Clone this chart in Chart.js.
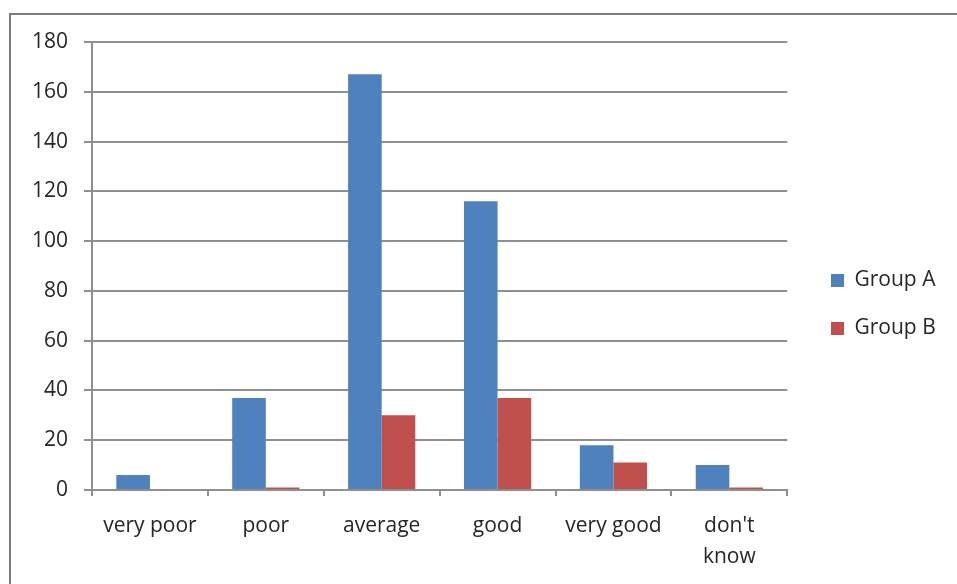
<!DOCTYPE html>
<html>
<head>
<meta charset="utf-8">
<script src="https://cdn.jsdelivr.net/npm/chart.js@4"></script>
<style>
html,body{margin:0;padding:0;background:#fff;}
#wrap{width:957px;height:584px;position:relative;}
</style>
</head>
<body>
<div id="wrap"><canvas id="c" width="957" height="584"></canvas></div>
<script>
const categories = ['very poor', 'poor', 'average', 'good', 'very good', ["don't", 'know']];
const groupA = [6, 37, 167, 116, 18, 10];
const groupB = [0, 1, 30, 37, 11, 1];
const seriesNames = ['Group A', 'Group B'];
const yTicks = { min: 0, max: 180, step: 20 };

const GRID = '#8f8f8f';
const TEXT = '#262626';

const framePlugin = {
  id: 'frame',
  beforeDraw(chart) {
    const ctx = chart.ctx;
    ctx.save();
    ctx.fillStyle = '#fff';
    ctx.fillRect(0, 0, chart.width, chart.height);
    ctx.strokeStyle = '#7a7a7a';
    ctx.lineWidth = 2;
    ctx.beginPath();
    ctx.moveTo(chart.width + 2, 14);
    ctx.lineTo(10, 14);
    ctx.lineTo(10, chart.height + 2);
    ctx.stroke();
    ctx.restore();
  }
};

const legendShift = {
  id: 'legendShift',
  afterLayout(chart) {
    const lg = chart.legend;
    if (!lg) return;
    const pad = lg.options.labels.padding;
    const w = lg.right - lg.left, h = lg.bottom - lg.top;
    lg.left = 831 - pad; lg.right = lg.left + w;
    lg.top = 243; lg.bottom = lg.top + h;
  }
};

Chart.defaults.font.family = '"Open Sans", Lato, sans-serif';
Chart.defaults.font.size = 21;
Chart.defaults.color = TEXT;

new Chart(document.getElementById('c'), {
  type: 'bar',
  data: {
    labels: categories,
    datasets: [
      { label: seriesNames[0], data: groupA, backgroundColor: '#4f81bd', borderWidth: 0 },
      { label: seriesNames[1], data: groupB, backgroundColor: '#c0504d', borderWidth: 0 }
    ]
  },
  options: {
    responsive: false,
    animation: false,
    devicePixelRatio: 1,
    layout: { padding: { top: 42, left: 0, bottom: 0, right: 28 } },
    datasets: { bar: { barPercentage: 1.0, categoryPercentage: 0.58 } },
    plugins: {
      tooltip: { enabled: false },
      legend: {
        position: 'right',
        align: 'start',
        labels: { boxWidth: 13, boxHeight: 13, padding: 27, color: TEXT, font: { size: 21 } }
      }
    },
    scales: {
      x: {
        afterFit(s) { s.height = 94; },
        grid: { display: true, drawOnChartArea: false, drawTicks: true, tickLength: 6, color: GRID, lineWidth: 2, offset: true },
        border: { display: true, color: GRID, width: 2 },
        ticks: { maxRotation: 0, autoSkip: false, padding: 14, color: TEXT, font: { size: 21, lineHeight: 1.5 } }
      },
      y: {
        min: yTicks.min, max: yTicks.max,
        afterFit(s) { s.width = 92; },
        grid: { color: GRID, lineWidth: 2, tickLength: 8, drawTicks: true },
        border: { display: true, color: GRID, width: 2 },
        ticks: { stepSize: yTicks.step, padding: 16, color: TEXT, font: { size: 21 } }
      }
    }
  },
  plugins: [framePlugin, legendShift]
});
</script>
</body>
</html>
